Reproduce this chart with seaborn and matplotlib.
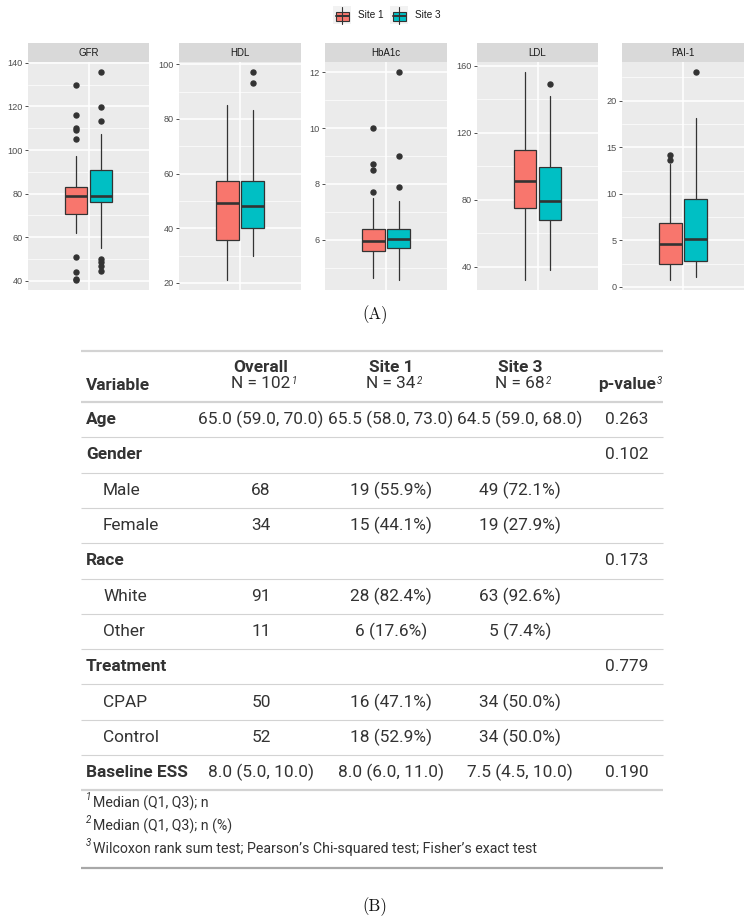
import numpy as np
import matplotlib
matplotlib.use("Agg")
import matplotlib.pyplot as plt
import seaborn as sns
from matplotlib.patches import Rectangle

# ---------------- data ----------------
variables = ["GFR", "HDL", "HbA1c", "LDL", "PAI-1"]
sites = ["Site 1", "Site 3"]

med_site1 = [78.9, 49.2, 5.95, 91.5, 4.66]
q1_site1 = [70.8, 35.7, 5.58, 75.4, 2.47]
q3_site1 = [83.0, 57.1, 6.40, 110.0, 6.90]
wlo_site1 = [62.1, 21.2, 4.62, 32.4, 0.79]
whi_site1 = [97.1, 84.9, 7.49, 156.0, 13.2]
out_site1 = [[130, 116, 110, 109, 105, 51, 44, 41, 40.6], [], [10.0, 8.71, 8.5, 7.7], [], [14.16, 13.6]]

med_site3 = [79.0, 48.3, 6.01, 79.2, 5.13]
q1_site3 = [76.2, 40.0, 5.70, 68.1, 2.83]
q3_site3 = [90.7, 57.4, 6.39, 99.3, 9.5]
wlo_site3 = [55.3, 30.0, 4.57, 38.4, 1.04]
whi_site3 = [107.2, 83.1, 7.39, 141.9, 18.2]
out_site3 = [[135.6, 119.8, 113.1, 50.0, 48.7, 46.9, 44.4], [97, 93], [12.0, 9.0, 7.89], [149], [23.05]]

major_ticks = [[40, 60, 80, 100, 120, 140], [20, 40, 60, 80, 100], [6, 8, 10, 12],
               [40, 80, 120, 160], [0, 5, 10, 15, 20]]

# table
row_labels = ["Age", "Gender", "Male", "Female", "Race", "White", "Other",
              "Treatment", "CPAP", "Control", "Baseline ESS"]
row_is_group = [True, True, False, False, True, False, False, True, False, False, True]
col_overall = ["65.0 (59.0, 70.0)", "", "68", "34", "", "91", "11", "", "50", "52", "8.0 (5.0, 10.0)"]
col_site1 = ["65.5 (58.0, 73.0)", "", "19 (55.9%)", "15 (44.1%)", "", "28 (82.4%)", "6 (17.6%)",
             "", "16 (47.1%)", "18 (52.9%)", "8.0 (6.0, 11.0)"]
col_site3 = ["64.5 (59.0, 68.0)", "", "49 (72.1%)", "19 (27.9%)", "", "63 (92.6%)", "5 (7.4%)",
             "", "34 (50.0%)", "34 (50.0%)", "7.5 (4.5, 10.0)"]
col_pval = ["0.263", "0.102", "", "", "0.173", "", "", "0.779", "", "", "0.190"]
header_names = ["Overall", "Site 1", "Site 3"]
header_n = ["N = 102", "N = 34", "N = 68"]
header_fn = ["1", "2", "2"]
footnotes = ["Median (Q1, Q3); n", "Median (Q1, Q3); n (%)",
             "Wilcoxon rank sum test; Pearson\u2019s Chi-squared test; Fisher\u2019s exact test"]

# ---------------- style ----------------
sns.set_theme(style="white")
palette = sns.color_palette(["#F8766D", "#00BFC4"])
GG = ["Liberation Sans", "DejaVu Sans"]
TB = ["Roboto", "DejaVu Sans"]
plt.rcParams["font.family"] = GG

W, H = 750, 923
fig = plt.figure(figsize=(W / 100, H / 100), dpi=100)
fig.patch.set_facecolor("white")


def frac_rect(x0, y0, x1, y1):
    return [x0 / W, 1 - y1 / H, (x1 - x0) / W, (y1 - y0) / H]


panel_x = [(28, 149), (179, 301), (325, 447), (477, 598), (622, 744)]
panel_top, panel_bot, strip_top = 62, 290, 43
positions = [0.875, 1.125]
bw = 0.225

for i, var in enumerate(variables):
    x0, x1 = panel_x[i]
    ax = fig.add_axes(frac_rect(x0, panel_top, x1, panel_bot))
    ax.set_facecolor("#EBEBEB")
    stats = [
        dict(med=med_site1[i], q1=q1_site1[i], q3=q3_site1[i], whislo=wlo_site1[i],
             whishi=whi_site1[i], fliers=out_site1[i]),
        dict(med=med_site3[i], q1=q1_site3[i], q3=q3_site3[i], whislo=wlo_site3[i],
             whishi=whi_site3[i], fliers=out_site3[i]),
    ]
    bp = ax.bxp(stats, positions=positions, widths=bw, patch_artist=True, showcaps=False,
                boxprops=dict(edgecolor="#333333", linewidth=0.9),
                whiskerprops=dict(color="#333333", linewidth=0.9),
                medianprops=dict(color="#333333", linewidth=1.9, solid_capstyle="butt"),
                flierprops=dict(marker="o", markerfacecolor="#333333", markeredgecolor="#333333",
                                markersize=3.6, linestyle="none"),
                zorder=3)
    for patch, c in zip(bp["boxes"], palette):
        patch.set_facecolor(c)
    mt = major_ticks[i]
    step = mt[1] - mt[0]
    ax.set_yticks(mt)
    ax.set_yticks([m - step / 2 for m in mt] + [mt[-1] + step / 2], minor=True)
    ax.set_xticks([1.0])
    allv = stats[0]["fliers"] + stats[1]["fliers"] + [wlo_site1[i], whi_site1[i], wlo_site3[i], whi_site3[i]]
    lo, hi = min(allv), max(allv)
    pad = (hi - lo) * 0.05
    ax.set_ylim(lo - pad, hi + pad)
    ax.set_xlim(0.4, 1.6)
    ax.grid(True, which="major", color="white", linewidth=1.1, zorder=0)
    ax.grid(True, which="minor", axis="y", color="white", linewidth=0.5, zorder=0)
    ax.set_axisbelow(True)
    ax.tick_params(axis="x", length=0, labelbottom=False)
    ax.tick_params(axis="y", which="major", length=2.5, width=0.6, color="#333333",
                   labelsize=6.6, labelcolor="#4D4D4D", pad=1.5, left=True)
    ax.tick_params(axis="y", which="minor", length=0)
    for s in ax.spines.values():
        s.set_visible(False)
    ax.set_xlabel("")
    ax.set_ylabel("")
    # strip
    sax = fig.add_axes(frac_rect(x0, strip_top, x1, panel_top))
    sax.set_facecolor("#D9D9D9")
    sax.set_xticks([])
    sax.set_yticks([])
    for s in sax.spines.values():
        s.set_visible(False)
    sax.text(0.5, 0.5, var, ha="center", va="center", fontsize=7, color="#1A1A1A",
             transform=sax.transAxes)

# overlay in pixel coordinates for legend, captions and table
ov = fig.add_axes([0, 0, 1, 1], zorder=-1)
ov.set_xlim(0, W)
ov.set_ylim(H, 0)
ov.axis("off")

# legend
key_x = [333, 390]
text_x = [358, 415]
for c, kx, tx, lab in zip(palette, key_x, text_x, sites):
    ov.add_patch(Rectangle((kx, 6), 18, 18, facecolor="#F2F2F2", edgecolor="none"))
    ov.plot([kx + 9, kx + 9], [6.5, 23.5], color="#333333", lw=0.8)
    ov.add_patch(Rectangle((kx + 2.5, 11.5), 13, 9, facecolor=c, edgecolor="#333333", lw=0.8))
    ov.plot([kx + 2.5, kx + 15.5], [16, 16], color="#333333", lw=1.4)
    ov.text(tx, 15.5, lab, ha="left", va="center", fontsize=7.2, color="#1A1A1A")

# captions
ov.text(375, 315, "(A)", ha="center", va="center", fontsize=12, family="cmr10", color="#111111")
ov.text(375, 907, "(B)", ha="center", va="center", fontsize=12, family="cmr10", color="#111111")

# table
tc = "#333333"
FS = 12.4
L, R = 81, 663
col_cx = [261, 391, 520, 627]
ov.plot([L, R], [351, 351], color="#D3D3D3", lw=1.6, solid_capstyle="butt")
ov.plot([L, R], [402, 402], color="#D3D3D3", lw=1.6, solid_capstyle="butt")
ov.text(86, 385, "Variable", ha="left", va="center", fontsize=FS, fontweight="bold",
        family=TB, color=tc)
for cx, nm, nn, fn in zip(col_cx[:3], header_names, header_n, header_fn):
    ov.text(cx, 368, nm, ha="center", va="center", fontsize=FS, fontweight="bold",
            family=TB, color=tc)
    t = ov.text(cx, 384, nn, ha="center", va="center", fontsize=FS, family=TB, color=tc)
    ov.annotate(fn, xy=(1, 1), xycoords=t, xytext=(0.8, 0), textcoords="offset points",
                ha="left", va="top", fontsize=7, style="italic", family=TB, color=tc)
t = ov.text(col_cx[3], 385, "p-value", ha="center", va="center", fontsize=FS, fontweight="bold",
            family=TB, color=tc)
ov.annotate("3", xy=(1, 1), xycoords=t, xytext=(0.8, 1), textcoords="offset points",
            ha="left", va="top", fontsize=7, style="italic", family=TB, color=tc)

row_h = 35.3
y_top = 402
for r, lab in enumerate(row_labels):
    yc = y_top + (r + 0.5) * row_h
    if row_is_group[r]:
        ov.text(86, yc, lab, ha="left", va="center", fontsize=FS, fontweight="bold",
                family=TB, color=tc)
    else:
        ov.text(103, yc, lab, ha="left", va="center", fontsize=FS, family=TB, color=tc)
    for cx, val in zip(col_cx, [col_overall[r], col_site1[r], col_site3[r], col_pval[r]]):
        if val:
            ov.text(cx, yc, val, ha="center", va="center", fontsize=FS, family=TB, color=tc)
    yb = y_top + (r + 1) * row_h
    if r < len(row_labels) - 1:
        ov.plot([L, R], [yb, yb], color="#D3D3D3", lw=0.8, solid_capstyle="butt")
    else:
        ov.plot([L, R], [yb, yb], color="#D3D3D3", lw=1.6, solid_capstyle="butt")

fn_y = [803, 826, 849]
for k, (fy, ft) in enumerate(zip(fn_y, footnotes)):
    ov.text(86, fy - 6, str(k + 1), ha="left", va="center", fontsize=7, style="italic",
            family=TB, color=tc)
    ov.text(93, fy, ft, ha="left", va="center", fontsize=10.2, family=TB, color=tc)
ov.plot([L, R], [868, 868], color="#A8A8A8", lw=1.6, solid_capstyle="butt")

fig.savefig("out.png", dpi=100, facecolor="white")
